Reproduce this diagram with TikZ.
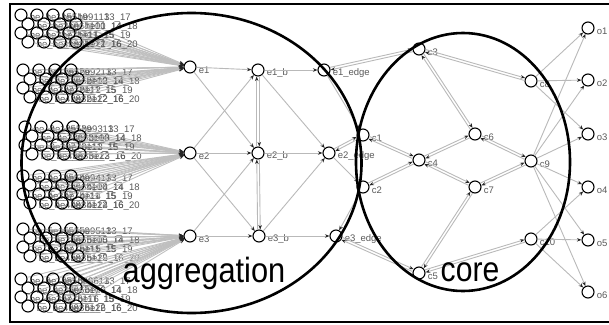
\documentclass[tikz,border=0pt]{standalone}
\usepackage{fontspec}
\setmainfont{Liberation Sans}
\usepackage{graphicx}
\usepackage{tikz}
\usetikzlibrary{arrows.meta, calc}

% two parallel links, one in each direction
\newcommand{\twoway}[2]{%
    \draw[link, shorten >=6.5pt, shorten <=6.5pt] ($(#1)!1.3pt!90:(#2)$) -- ($(#2)!1.3pt!-90:(#1)$);
    \draw[link, shorten >=6.5pt, shorten <=6.5pt] ($(#2)!1.3pt!90:(#1)$) -- ($(#1)!1.3pt!-90:(#2)$);
}

\begin{document}
\begin{tikzpicture}[x=1pt, y=-1pt,
    vtx/.style={circle, draw, line width=1.1pt, minimum size=12pt, inner sep=0pt},
    lbl/.style={font=\fontsize{9.5}{10}\selectfont, text=gray!70!black, inner sep=0.5pt, label distance=1.5pt, yshift=-3pt},
    link/.style={draw=gray!55, line width=0.9pt, -{Stealth[length=4.5pt, width=3.5pt, color=gray!30!black]}},
    feed/.style={draw=gray!50, line width=0.9pt, -{Stealth[length=4.5pt, width=3.5pt, color=gray!30!black]}},
    big/.style={font=\fontsize{35}{35}\selectfont, anchor=base, inner sep=0pt}]
    \useasboundingbox (0,0) rectangle (609,324);

    % Nodes
    \node[vtx, label={[lbl]right:e1}] (e1) at (190, 67) {};
    \node[vtx, label={[lbl]right:e2}] (e2) at (190, 153) {};
    \node[vtx, label={[lbl]right:e3}] (e3) at (190, 236) {};
    \node[vtx, label={[lbl]right:e1\_b}] (e1b) at (258, 70) {};
    \node[vtx, label={[lbl]right:e2\_b}] (e2b) at (258, 153) {};
    \node[vtx, label={[lbl]right:e3\_b}] (e3b) at (259, 236) {};
    \node[vtx, label={[lbl]right:e1\_edge}] (e1e) at (324, 70) {};
    \node[vtx, label={[lbl]right:e2\_edge}] (e2e) at (329, 153) {};
    \node[vtx, label={[lbl]right:e3\_edge}] (e3e) at (336, 236) {};

    \node[vtx, label={[lbl]right:c1}] (c1) at (363, 135) {};
    \node[vtx, label={[lbl]right:c2}] (c2) at (363, 187) {};
    \node[vtx, label={[lbl]right:c3}] (c3) at (419, 49) {};
    \node[vtx, label={[lbl]right:c4}] (c4) at (419, 160) {};
    \node[vtx, label={[lbl]right:c5}] (c5) at (419, 273) {};
    \node[vtx, label={[lbl]right:c6}] (c6) at (475, 134) {};
    \node[vtx, label={[lbl]right:c7}] (c7) at (475, 187) {};
    \node[vtx, label={[lbl]right:c8}] (c8) at (531, 81) {};
    \node[vtx, label={[lbl]right:c9}] (c9) at (531, 161) {};
    \node[vtx, label={[lbl]right:c10}] (c10) at (531, 239) {};

    \foreach \k/\y in {1/28, 2/80, 3/134, 4/187, 5/240, 6/292}
        \node[vtx, label={[lbl]right:o\k}] (o\k) at (588, \y) {};

    % input blocks, each feeding one e node
    \foreach \g/\gx/\gy/\t in {1/21/15/e1, 2/23/70/e1, 3/25/127/e2, 4/23/176/e2, 5/23/229/e3, 6/21/279/e3} {
        \foreach \c in {0,...,3} {
            \foreach \r in {0,...,3} {
                \pgfmathtruncatemacro{\i}{4*\c+\r+1}
                \pgfmathtruncatemacro{\j}{\i+4}
                \node[vtx, label={[lbl]right:be\_\g\_\i\_\j}] (b\g-\i) at ({\gx+16*\c+7*mod(\r,2)}, {\gy+9*\r}) {};
                \draw[feed] (b\g-\i) -- (\t);
            }
        }
    }

    % Paths
    \draw[link] (e1) -- (e1b);
    \draw[link] (e2) -- (e2b);
    \draw[link] (e3) -- (e3b);
    \draw[link] (e1) -- (e2b);
    \draw[link] (e2) -- (e1b);
    \draw[link] (e2) -- (e3b);
    \draw[link] (e3) -- (e2b);
    \twoway{e1b}{e2b}
    \twoway{e2b}{e3b}
    \draw[link] (e1b) -- (e1e);
    \draw[link] (e2b) -- (e2e);
    \draw[link] (e3b) -- (e3e);
    \draw[link] (e1b) -- (e2e);
    \draw[link] (e3b) -- (e2e);
    \draw[link] (e1e) -- (c1);
    \draw[link] (e2e) -- (c2);
    \draw[link] (c2) -- (e3e);
    \twoway{c1}{e2e}
    \twoway{c3}{e1e}
    \twoway{e3e}{c5}

    \twoway{c1}{c4}
    \twoway{c2}{c4}
    \twoway{c3}{c8}
    \twoway{c3}{c6}
    \twoway{c4}{c6}
    \twoway{c6}{c9}
    \twoway{c4}{c7}
    \twoway{c7}{c9}
    \twoway{c7}{c5}
    \twoway{c5}{c10}

    \foreach \k in {1,2,3}
        \draw[link] (c8) -- (o\k);
    \foreach \k in {1,...,6}
        \draw[link] (c9) -- (o\k);
    \foreach \k in {4,5,6}
        \draw[link] (c10) -- (o\k);

    % groups
    \draw[line width=2.6pt] (191.5, 163) ellipse [x radius=170, y radius=150];
    \draw[line width=2.6pt] (463, 162) ellipse [x radius=107, y radius=129];
    \node[big] (agg) at (204, 282) {\scalebox{0.88}[1]{aggregation}};
    \node[big] (core) at (470, 281) {\scalebox{0.86}[1]{core}};

    % frame
    \draw[line width=1.6pt] (10, 4) rectangle (614, 322);
\end{tikzpicture}
\end{document}
